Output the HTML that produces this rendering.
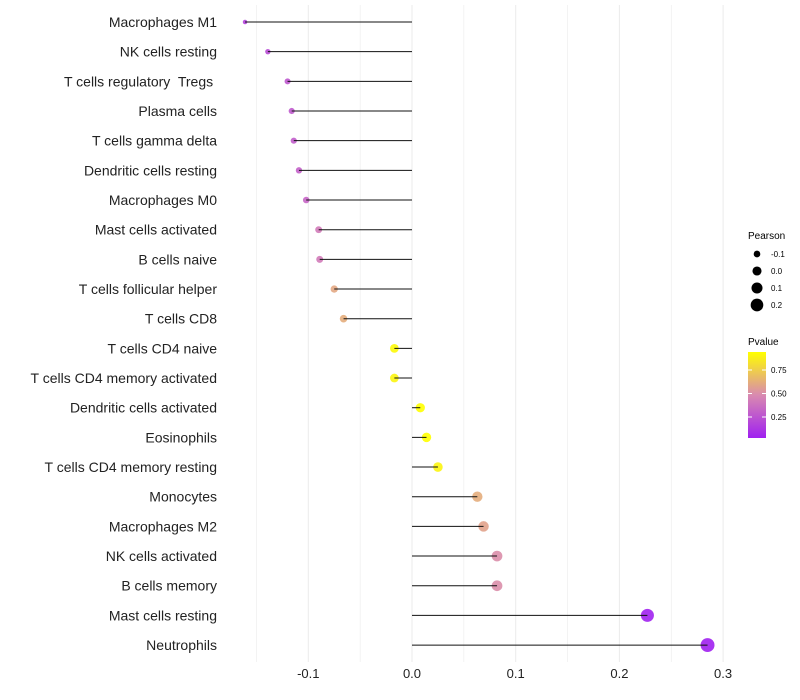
<!DOCTYPE html>
<html><head><meta charset="utf-8">
<style>
body{margin:0;background:#fff;}
svg{display:block;font-family:"Liberation Sans",sans-serif;}
text{white-space:pre;}
</style></head>
<body>
<svg id="chart" width="800" height="700">
<defs>
<linearGradient id="pgrad" x1="0" y1="1" x2="0" y2="0">
<stop offset="0" stop-color="#A020F0"/>
<stop offset="0.5" stop-color="#D98AB0"/>
<stop offset="1" stop-color="#FFFF00"/>
</linearGradient>
</defs>
<g id="grid"></g>
<g id="marks"></g>
<g id="ylabels"></g>
<g id="xlabels"></g>
<g>
<text x="748" y="239" font-size="10" fill="#000">Pearson</text>
<g id="sizeleg"></g>
</g>
<g>
<text x="748" y="345" font-size="10" fill="#000">Pvalue</text>
<rect x="748" y="352" width="18" height="86" fill="url(#pgrad)"/>
<g id="colleg"></g>
</g>
</svg>
<script>
const cells = ["Macrophages M1","NK cells resting","T cells regulatory  Tregs ","Plasma cells","T cells gamma delta","Dendritic cells resting","Macrophages M0","Mast cells activated","B cells naive","T cells follicular helper","T cells CD8","T cells CD4 naive","T cells CD4 memory activated","Dendritic cells activated","Eosinophils","T cells CD4 memory resting","Monocytes","Macrophages M2","NK cells activated","B cells memory","Mast cells resting","Neutrophils"];
const pearson = [-0.161,-0.139,-0.120,-0.116,-0.114,-0.109,-0.102,-0.090,-0.089,-0.075,-0.066,-0.017,-0.017,0.008,0.014,0.025,0.063,0.069,0.082,0.082,0.227,0.285];
const pvalue = [0.18,0.22,0.27,0.28,0.29,0.31,0.33,0.42,0.42,0.6,0.62,0.92,0.9,0.97,0.95,0.9,0.62,0.58,0.5,0.5,0.04,0.03];
const xTicks = [-0.1,0.0,0.1,0.2,0.3];
const xTickLabels = ["-0.1","0.0","0.1","0.2","0.3"];
const sizeLegVals = [-0.1,0.0,0.1,0.2];
const colLegVals = [0.25,0.50,0.75];

const NS="http://www.w3.org/2000/svg";
const x = v => 412 + v*1037;
const y = i => 22 + i*29.67;
const r = v => Math.sqrt(Math.max(20.7 + 97*v, 2.5));
function lerp(a,b,t){return Math.round(a+(b-a)*t);}
function pcol(p){
  const stops=[[0,[160,32,240]],[0.5,[217,138,176]],[1,[255,255,0]]];
  const t=Math.max(0,Math.min(1,(p-0.03)/(0.94-0.03)));
  let s0=stops[0],s1=stops[1];
  if(t>0.5){s0=stops[1];s1=stops[2];}
  const u=(t-s0[0])/(s1[0]-s0[0]);
  return `rgb(${lerp(s0[1][0],s1[1][0],u)},${lerp(s0[1][1],s1[1][1],u)},${lerp(s0[1][2],s1[1][2],u)})`;
}
function mk(tag,attrs,parent){const e=document.createElementNS(NS,tag);for(const k in attrs)e.setAttribute(k,attrs[k]);parent.appendChild(e);return e;}

const grid=document.getElementById('grid');
for(let v=-0.15; v<=0.301; v+=0.05){
  const g=mk('line',{x1:x(v),x2:x(v),y1:5,y2:662,stroke:'#ebebeb','stroke-width':Math.abs(Math.round(v*100)%10)<1?1:0.6},grid);
  
  
}
const xl=document.getElementById('xlabels');
xTicks.forEach((v,i)=>{
  const t=mk('text',{x:x(v),y:678,'font-size':13,'text-anchor':'middle',fill:'#222'},xl);
  t.textContent=xTickLabels[i];
  
  
});
const marks=document.getElementById('marks');
const yl=document.getElementById('ylabels');
cells.forEach((c,i)=>{
  const pt=mk('circle',{cx:x(pearson[i]),cy:y(i),r:r(pearson[i]),fill:pcol(pvalue[i]),'fill-opacity':0.9},marks);
  
  
  const ln=mk('line',{x1:x(0),x2:x(pearson[i]),y1:y(i),y2:y(i),stroke:'#111','stroke-width':1},marks);
  
  
  const t=mk('text',{x:217,y:y(i)+5,'font-size':14,'text-anchor':'end',fill:'#222'},yl);
  t.textContent=c;
  
  
});
const sl=document.getElementById('sizeleg');
sizeLegVals.forEach((v,i)=>{
  const cy=254+i*17;
  const c=mk('circle',{cx:757,cy:cy,r:r(v),fill:'#000'},sl);
  
  
  const t=mk('text',{x:771,y:cy+3,'font-size':8,fill:'#000'},sl);
  t.textContent=v.toFixed(1);
  
  
});
const cl=document.getElementById('colleg');
colLegVals.forEach(v=>{
  const cy=440.5 - v*94;
  const a=mk('line',{x1:748,x2:752,y1:cy,y2:cy,stroke:'#fff'},cl);
  
  
  const b=mk('line',{x1:762,x2:766,y1:cy,y2:cy,stroke:'#fff'},cl);
  
  
  const t=mk('text',{x:771,y:cy+3,'font-size':8,fill:'#000'},cl);
  t.textContent=v.toFixed(2);
  
  
});
</script>
</body></html>
